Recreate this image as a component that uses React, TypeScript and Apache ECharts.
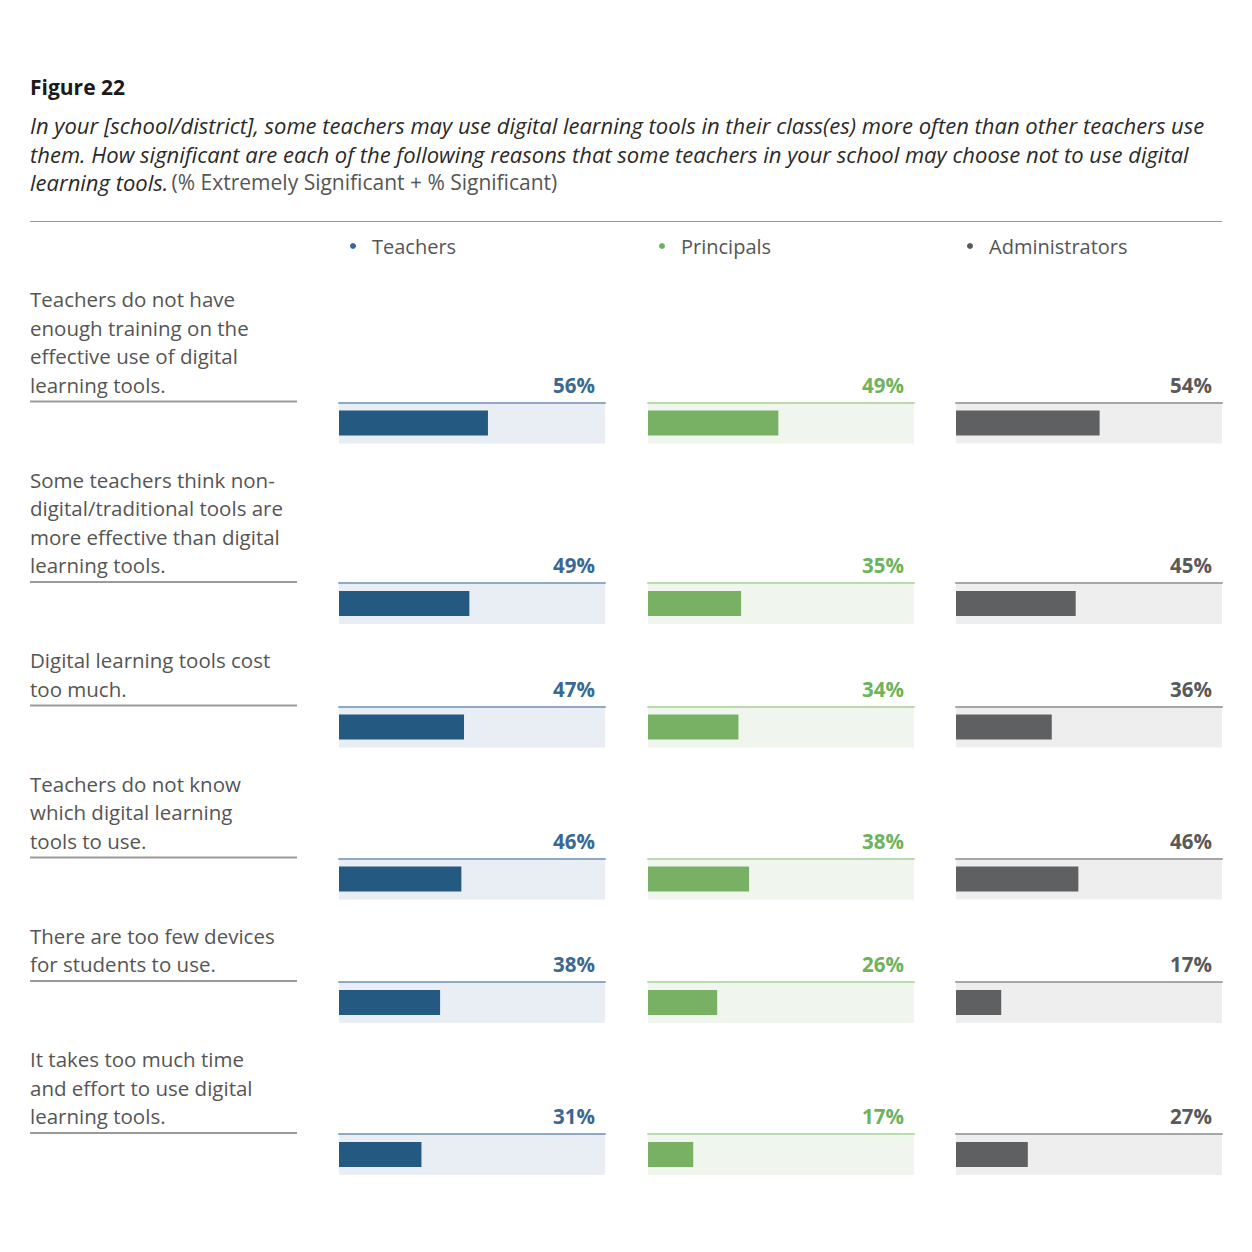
import React, { useEffect, useRef } from "react";
import * as echarts from "echarts";

// Survey items (left-hand labels), one entry per row
const categories = [
  "Teachers do not have\nenough training on the\neffective use of digital\nlearning tools.",
  "Some teachers think non-\ndigital/traditional tools are\nmore effective than digital\nlearning tools.",
  "Digital learning tools cost\ntoo much.",
  "Teachers do not know\nwhich digital learning\ntools to use.",
  "There are too few devices\nfor students to use.",
  "It takes too much time\nand effort to use digital\nlearning tools.",
];

const groups = ["Teachers", "Principals", "Administrators"];

// % Extremely Significant + % Significant
const teachers = [56, 49, 47, 46, 38, 31];
const principals = [49, 35, 34, 38, 26, 17];
const administrators = [54, 45, 36, 46, 17, 27];

const seriesValues = [teachers, principals, administrators];

const FONT = "'Open Sans', 'Noto Sans', sans-serif";

const palette = [
  { bar: "#245981", bg: "#e8eef3", line: "#8eaac6", label: "#3a6892", dot: "#3a6892" },
  { bar: "#78b163", bg: "#f0f5ee", line: "#b9dcae", label: "#6db35c", dot: "#6db35c" },
  { bar: "#5f6062", bg: "#eeeeee", line: "#a6a6a6", label: "#58595b", dot: "#58595b" },
];

export default function App() {
  const ref = useRef<HTMLDivElement>(null);

  useEffect(() => {
    document.body.style.margin = "0";
    if (!ref.current) return;
    const chart = echarts.init(ref.current, null, { renderer: "svg" });

    const colLeft = [339, 648, 956];
    const colWidth = 266;
    const labelLeft = 30;
    const lineH = 28.5;

    // vertical layout of the rows, driven by the number of label lines
    const rowLine: number[] = [];
    const rowFirst: number[] = [];
    let first = 299;
    categories.forEach((c) => {
      const n = c.split("\n").length;
      rowFirst.push(first);
      const ly = first + (n - 1) * lineH + 17;
      rowLine.push(ly);
      first = ly + 78;
    });

    const grids: any[] = [];
    const xAxes: any[] = [];
    const yAxes: any[] = [];
    const series: any[] = [];
    const graphics: any[] = [];

    categories.forEach((cat, r) => {
      // row label and its underline
      graphics.push({
        type: "text",
        x: labelLeft,
        y: rowFirst[r] - lineH / 2,
        style: {
          text: cat,
          font: `20.5px ${FONT}`,
          fill: "#555555",
          lineHeight: lineH,
        },
      });
      graphics.push({
        type: "line",
        shape: { x1: labelLeft, y1: rowLine[r], x2: 297, y2: rowLine[r] },
        style: { stroke: "#9a9a9a", lineWidth: 2 },
      });

      groups.forEach((g, c) => {
        const idx = grids.length;
        const p = palette[c];
        grids.push({
          left: colLeft[c],
          top: rowLine[r] + 1,
          width: colWidth,
          height: 41,
          show: true,
          backgroundColor: p.bg,
          borderWidth: 0,
        });
        xAxes.push({
          type: "value",
          gridIndex: idx,
          min: 0,
          max: 100,
          position: "top",
          axisLine: { show: true, onZero: false, lineStyle: { color: p.line, width: 2 } },
          axisTick: { show: false },
          axisLabel: { show: false },
          splitLine: { show: false },
        });
        yAxes.push({
          type: "category",
          gridIndex: idx,
          data: [cat],
          show: false,
        });
        const v = seriesValues[c][r];
        series.push({
          type: "bar",
          name: g,
          xAxisIndex: idx,
          yAxisIndex: idx,
          data: [v],
          barWidth: 25,
          itemStyle: { color: p.bar },
          silent: true,
        });
        graphics.push({
          type: "text",
          x: colLeft[c] + colWidth - 10,
          y: rowLine[r] - 17,
          style: {
            text: `${v}%`,
            font: `bold 20.5px ${FONT}`,
            fill: p.label,
            align: "right",
            verticalAlign: "middle",
          },
        });
      });
    });

    // legend dots and names
    groups.forEach((g, c) => {
      graphics.push({
        type: "circle",
        shape: { cx: colLeft[c] + 14, cy: 246, r: 3 },
        style: { fill: palette[c].dot },
      });
      graphics.push({
        type: "text",
        x: colLeft[c] + 33,
        y: 246,
        style: { text: g, font: `20px ${FONT}`, fill: "#555555", verticalAlign: "middle" },
      });
    });

    // heading block
    graphics.push({
      type: "text",
      x: 30,
      y: 87,
      style: { text: "Figure 22", font: `bold 21px ${FONT}`, fill: "#1a1a1a", verticalAlign: "middle" },
    });
    graphics.push({
      type: "text",
      x: 30,
      y: 111,
      style: {
        text:
          "{i|In your [school/district], some teachers may use digital learning tools in their class(es) more often than other teachers use}\n" +
          "{i|them. How significant are each of the following reasons that some teachers in your school may choose not to use digital}\n" +
          "{i|learning tools.} {n|(% Extremely Significant + % Significant)}",
        rich: {
          i: { font: `italic 22px ${FONT}`, fill: "#2a2a2a", lineHeight: 28.5 },
          n: { font: `21px ${FONT}`, fill: "#555555", lineHeight: 28.5 },
        },
      },
    });
    graphics.push({
      type: "line",
      shape: { x1: 30, y1: 221.5, x2: 1222, y2: 221.5 },
      style: { stroke: "#9a9a9a", lineWidth: 1 },
    });

    chart.setOption({
      animation: false,
      backgroundColor: "#ffffff",
      grid: grids,
      xAxis: xAxes,
      yAxis: yAxes,
      series,
      graphic: graphics,
    });

    return () => chart.dispose();
  }, []);

  return <div ref={ref} style={{ width: 1252, height: 1252 }} />;
}
